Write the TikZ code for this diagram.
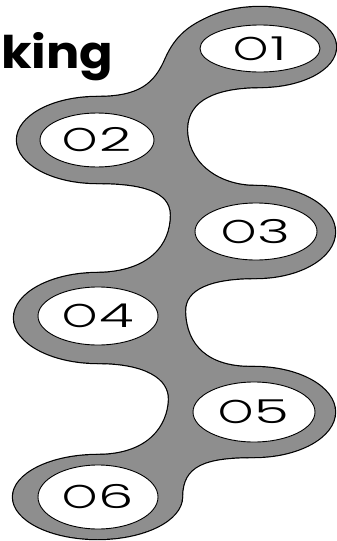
\documentclass[tikz,border=0pt]{standalone}
\usepackage{fontspec}
\usetikzlibrary{shapes.geometric}
\newfontfamily\numfont{Poppins Light}
\newfontfamily\titlefont{Poppins Bold}
\definecolor{ringgray}{RGB}{142,142,142}
\newcommand\spinepath{(215,15) .. controls (190,24.5) and (176,36) .. (166,58)
 .. controls (155,84) and (140,97) .. (97,97) -- (97,140) -- (97,183)
 .. controls (140,183) and (171,190) .. (171,215)
 .. controls (171,245) and (150,272) .. (98,273) -- (98,318) -- (98,363)
 .. controls (145,363) and (170,378) .. (169,400)
 .. controls (168,425) and (150,455) .. (97,455) -- (97,497) -- (182,497)
 .. controls (182,465) and (205,457) .. (254,457) -- (254,412) -- (254,367)
 .. controls (207,368) and (186,345) .. (185,312)
 .. controls (184,288) and (212,278) .. (256,278) -- (256,232) -- (256,186)
 .. controls (215,186) and (186,160) .. (187,128)
 .. controls (188,100) and (215,87) .. (262,87) -- (260,47) -- cycle}
\newcommand\ringpaths{%
 (260,47) ellipse [x radius=76pt, y radius=40pt]
 (97,140) ellipse [x radius=80pt, y radius=43pt]
 (256,232) ellipse [x radius=79pt, y radius=46pt]
 (98,318) ellipse [x radius=84pt, y radius=45pt]
 (254,412) ellipse [x radius=81pt, y radius=45pt]
 (97.5,497) ellipse [x radius=84.5pt, y radius=42pt]}
\newcommand\lab[1]{\scalebox{1.35}[1]{O}\kern1.5pt\scalebox{1.7}[1]{#1}}
\tikzset{
 whiteell/.style={ellipse, draw=black, line width=0.9pt, fill=white, inner sep=0pt,
   font=\numfont\fontsize{33}{33}\selectfont},
 outlinestyle/.style={draw=black, line width=2.4pt},
 ringfill/.style={fill=ringgray}
}
\begin{document}
\begin{tikzpicture}[x=1pt,y=-1pt]
\useasboundingbox (0,0) rectangle (337,541);
\fill[white] (0,0) rectangle (337,541);
\begin{scope}
\clip (0,0) rectangle (337,541);
\path[outlinestyle] \ringpaths;
\path[outlinestyle] \spinepath;
\path[ringfill] \ringpaths;
\path[ringfill] \spinepath;
\node[whiteell, minimum width=120pt, minimum height=47pt] (o1) at (260,48.5) {\lab{1}};
\node[whiteell, minimum width=114pt, minimum height=54pt] (o2) at (97,140) {\lab{2}};
\node[whiteell, minimum width=122pt, minimum height=57pt] (o3) at (256,231.5) {\lab{3}};
\node[whiteell, minimum width=120pt, minimum height=58pt] (o4) at (98,316) {\lab{4}};
\node[whiteell, minimum width=122pt, minimum height=60pt] (o5) at (254,412) {\lab{5}};
\node[whiteell, minimum width=120pt, minimum height=64pt] (o6) at (98,497) {\lab{6}};
\node[font=\titlefont\fontsize{45}{45}\selectfont, anchor=base west, xscale=1.1, inner sep=0pt] (title) at (1,68) {king};
\end{scope}
\end{tikzpicture}
\end{document}
